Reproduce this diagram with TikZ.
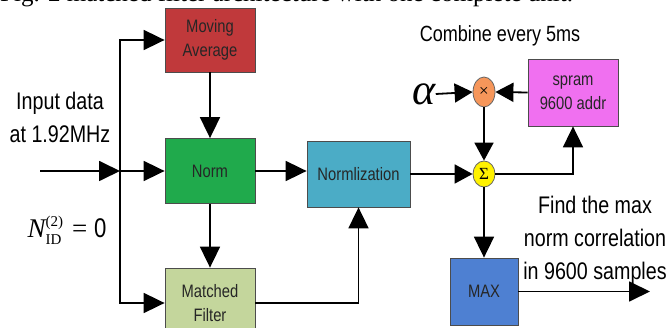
\documentclass[tikz,border=0pt]{standalone}
\usepackage{fontspec}
\setmainfont{Liberation Serif}
\newfontfamily\nar[FakeStretch=0.82]{Liberation Sans}
\usetikzlibrary{arrows.meta,shapes.geometric}
\definecolor{cred}{RGB}{192,57,59}
\definecolor{cgreen}{RGB}{32,170,76}
\definecolor{clgreen}{RGB}{196,214,156}
\definecolor{ccyan}{RGB}{75,172,198}
\definecolor{cmag}{RGB}{240,112,240}
\definecolor{cblue}{RGB}{78,128,210}
\definecolor{corange}{RGB}{246,150,90}
\definecolor{cyellow}{RGB}{255,242,0}
\tikzset{
  blk/.style={draw=black!70, line width=0.8pt, minimum width=90pt, minimum height=64pt, inner sep=0pt, align=center, text=black!85, font=\nar\fontsize{18}{24}\selectfont},
  op/.style={draw=black!60, line width=0.8pt, ellipse, inner sep=0pt, font=\fontsize{17}{17}\selectfont},
  con/.style={line width=1.8pt, -{Triangle[length=21pt,width=20pt]}},
  scon/.style={line width=1.8pt, -{Triangle[length=18pt,width=19pt]}},
  lbl/.style={align=center, inner sep=0pt, font=\nar\fontsize{24}{33}\selectfont}
}
\begin{document}
\begin{tikzpicture}[x=1pt,y=-1pt]
\useasboundingbox (0,0) rectangle (668,328);
\clip (0,0) rectangle (668,328);
\node[anchor=base west, inner sep=0pt, font=\fontsize{25}{28}\selectfont] (cap) at (0,1.5) {Fig. 2 matched filter architecture with one complete unit.};
\node[blk, fill=cred] (ma) at (210,40) {Moving\\Average};
\node[blk, fill=cgreen, minimum height=65pt] (norm) at (210,171) {Norm};
\node[blk, fill=clgreen, minimum height=70pt] (mf) at (210,303) {Matched\\Filter};
\node[blk, fill=ccyan, minimum width=103pt, minimum height=66pt] (nz) at (358.5,174) {Normlization};
\node[blk, fill=cmag, minimum width=90pt, minimum height=67pt] (sp) at (573,92.5) {spram\\9600 addr};
\node[blk, fill=cblue, minimum width=68pt, minimum height=67pt] (mx) at (484,291.5) {MAX};
\node[op, fill=corange, minimum width=22pt, minimum height=30pt] (mul) at (484,92) {×};
\node[op, fill=cyellow, minimum width=22pt, minimum height=26pt] (sum) at (484,174) {Σ};
\node[inner sep=0pt, font=\itshape\fontsize{44}{44}\selectfont] (al) at (424,94) {α};
\node[lbl] (in) at (60,117) {Input data\\at 1.92MHz};
\node[inner sep=0pt, font=\fontsize{27}{27}\selectfont] (nid) at (67,232) {{\itshape N}\raisebox{-7pt}{\fontsize{15}{13}\selectfont\begin{tabular}[b]{@{}l@{}}(2)\\[4pt]ID\end{tabular}}\,\,= {\nar 0}};
\node[lbl, font=\nar\fontsize{22}{22}\selectfont] (cmb) at (500,36) {Combine every 5ms};
\node[lbl] (fm) at (595,240) {Find the max\\norm correlation\\in 9600 samples};
\coordinate (s) at (40,171);
\coordinate (j) at (120,171);
\coordinate (o) at (650,291.5);
\draw[con] (s) -- (j);
\draw[con] (j) -- (norm.west);
\draw[con] (j) |- (ma.west);
\draw[con] (j) |- (mf.west);
\draw[con] (ma) -- (norm);
\draw[con] (norm) -- (mf);
\draw[con] (norm) -- (nz.west |- norm);
\draw[con] (mf.east) -| (nz.south);
\draw[scon] (nz.east) -- (sum.west);
\draw[con] (sum.east) -| (sp.south);
\draw[scon] (sp.west) -- (mul.east);
\draw[scon] (al.east) -- (mul.west);
\draw[scon] (mul.south) -- (sum.north);
\draw[con] (sum.south) -- (mx.north);
\draw[con] (mx.east) -- (o);
\end{tikzpicture}
\end{document}
